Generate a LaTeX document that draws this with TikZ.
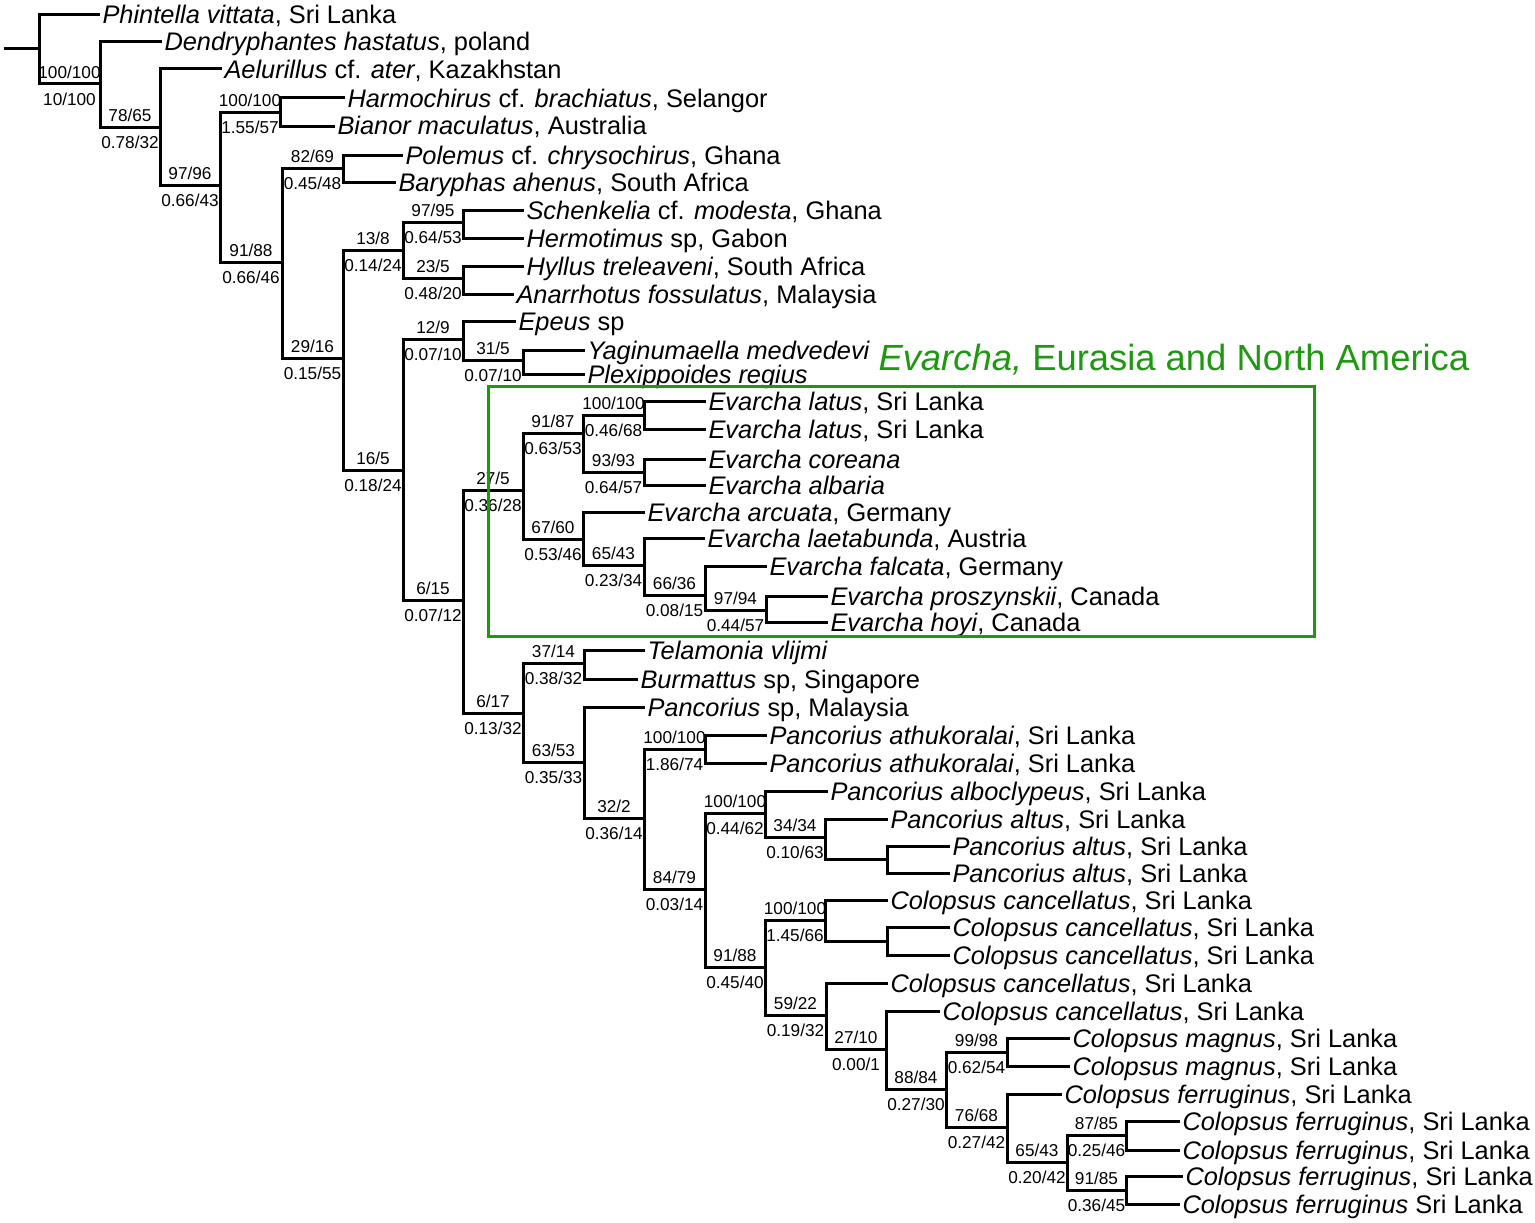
\documentclass[tikz,border=0pt]{standalone}
\usepackage{fontspec}
\setmainfont{Liberation Sans}
\definecolor{cladegreen}{RGB}{30,152,16}
\begin{document}
\begin{tikzpicture}[
x=1pt, y=-1pt,
line width=3pt,
taxon/.style={
anchor=west,
inner sep=1pt,
text height=18pt,
text depth=0pt,
font=\fontsize{25.4}{28}\selectfont
},
topval/.style={above=4pt, inner sep=0pt, font=\fontsize{17.2}{19}\selectfont},
botval/.style={below=8pt, inner sep=0pt, font=\fontsize{17.2}{19}\selectfont}
]
\useasboundingbox (0,0) rectangle (1535,1223);

\coordinate (n0) at (4,49);
\coordinate (n1) at (39,49);
\coordinate (n2) at (100,84);
\coordinate (n3) at (160,127);
\coordinate (n4) at (220,185);
\coordinate (n5) at (280,112);
\coordinate (n6) at (282,262);
\coordinate (n7) at (343,168);
\coordinate (n8) at (343,358);
\coordinate (n9) at (403,250);
\coordinate (n10) at (403,470);
\coordinate (n11) at (463,222);
\coordinate (n12) at (463,278);
\coordinate (n13) at (463,600);
\coordinate (n14) at (463,339);
\coordinate (n15) at (523,360);
\coordinate (n16) at (523,490);
\coordinate (n17) at (523,713);
\coordinate (n18) at (583,433);
\coordinate (n19) at (583,539);
\coordinate (n20) at (644,415);
\coordinate (n21) at (644,472);
\coordinate (n22) at (644,565);
\coordinate (n23) at (705,595);
\coordinate (n24) at (766,610);
\coordinate (n25) at (584,663);
\coordinate (n26) at (584,762);
\coordinate (n27) at (644,818);
\coordinate (n43) at (705,749);
\coordinate (n28) at (705,889);
\coordinate (n29) at (765,813);
\coordinate (n30) at (825,837);
\coordinate (n31) at (887,859);
\coordinate (n32) at (765,967);
\coordinate (n33) at (825,920);
\coordinate (n34) at (887,941);
\coordinate (n35) at (826,1015);
\coordinate (n36) at (886,1049);
\coordinate (n37) at (946,1089);
\coordinate (n38) at (1007,1052);
\coordinate (n39) at (1007,1127);
\coordinate (n40) at (1067,1162);
\coordinate (n41) at (1126,1135);
\coordinate (n42) at (1126,1190);

\node[taxon] (t1) at (100,15) {\textit{Phintella vittata}, Sri Lanka};
\node[taxon] (t2) at (162,42) {\textit{Dendryphantes hastatus}, poland};
\node[taxon] (t3) at (222,69) {\textit{Aelurillus} cf. \textit{ater}, Kazakhstan};
\node[taxon] (t4) at (345,98) {\textit{Harmochirus} cf. \textit{brachiatus}, Selangor};
\node[taxon] (t5) at (335,126) {\textit{Bianor maculatus}, Australia};
\node[taxon] (t6) at (403,155) {\textit{Polemus} cf. \textit{chrysochirus}, Ghana};
\node[taxon] (t7) at (396,182) {\textit{Baryphas ahenus}, South Africa};
\node[taxon] (t8) at (524,210) {\textit{Schenkelia} cf. \textit{modesta}, Ghana};
\node[taxon] (t9) at (524,238) {\textit{Hermotimus} sp, Gabon};
\node[taxon] (t10) at (524,266) {\textit{Hyllus treleaveni}, South Africa};
\node[taxon] (t11) at (514,294) {\textit{Anarrhotus fossulatus}, Malaysia};
\node[taxon] (t12) at (516,321) {\textit{Epeus} sp};
\node[taxon] (t13) at (585,350) {\textit{Yaginumaella medvedevi}};
\node[taxon] (t14) at (585,374) {\textit{Plexippoides regius}};
\node[taxon] (t15) at (706,401) {\textit{Evarcha latus}, Sri Lanka};
\node[taxon] (t16) at (706,429) {\textit{Evarcha latus}, Sri Lanka};
\node[taxon] (t17) at (706,459) {\textit{Evarcha coreana}};
\node[taxon] (t18) at (706,485) {\textit{Evarcha albaria}};
\node[taxon] (t19) at (645,512) {\textit{Evarcha arcuata}, Germany};
\node[taxon] (t20) at (705,538) {\textit{Evarcha laetabunda}, Austria};
\node[taxon] (t21) at (767,566) {\textit{Evarcha falcata}, Germany};
\node[taxon] (t22) at (828,596) {\textit{Evarcha proszynskii}, Canada};
\node[taxon] (t23) at (828,622) {\textit{Evarcha hoyi}, Canada};
\node[taxon] (t24) at (645,650) {\textit{Telamonia vlijmi}};
\node[taxon] (t25) at (638,679) {\textit{Burmattus} sp, Singapore};
\node[taxon] (t26) at (645,707) {\textit{Pancorius} sp, Malaysia};
\node[taxon] (t27) at (767,735) {\textit{Pancorius athukoralai}, Sri Lanka};
\node[taxon] (t28) at (767,763) {\textit{Pancorius athukoralai}, Sri Lanka};
\node[taxon] (t29) at (828,791) {\textit{Pancorius alboclypeus}, Sri Lanka};
\node[taxon] (t30) at (888,819) {\textit{Pancorius altus}, Sri Lanka};
\node[taxon] (t31) at (950,846) {\textit{Pancorius altus}, Sri Lanka};
\node[taxon] (t32) at (950,873) {\textit{Pancorius altus}, Sri Lanka};
\node[taxon] (t33) at (888,900) {\textit{Colopsus cancellatus}, Sri Lanka};
\node[taxon] (t34) at (950,927) {\textit{Colopsus cancellatus}, Sri Lanka};
\node[taxon] (t35) at (950,955) {\textit{Colopsus cancellatus}, Sri Lanka};
\node[taxon] (t36) at (888,983) {\textit{Colopsus cancellatus}, Sri Lanka};
\node[taxon] (t37) at (940,1011) {\textit{Colopsus cancellatus}, Sri Lanka};
\node[taxon] (t38) at (1070,1038) {\textit{Colopsus magnus}, Sri Lanka};
\node[taxon] (t39) at (1070,1066) {\textit{Colopsus magnus}, Sri Lanka};
\node[taxon] (t40) at (1062,1094) {\textit{Colopsus ferruginus}, Sri Lanka};
\node[taxon] (t41) at (1180,1121) {\textit{Colopsus ferruginus}, Sri Lanka};
\node[taxon] (t42) at (1180,1150) {\textit{Colopsus ferruginus}, Sri Lanka};
\node[taxon] (t43) at (1183,1176) {\textit{Colopsus ferruginus}, Sri Lanka};
\node[taxon] (t44) at (1180,1204) {\textit{Colopsus ferruginus} Sri Lanka};

\draw (n0) -- (n1);
\draw (n1) |- (t1);
\draw (n1) |- (n2) node[pos=.75,topval] {100/100} node[pos=.75,botval] {10/100};
\draw (n2) |- (t2);
\draw (n2) |- (n3) node[pos=.75,topval] {78/65} node[pos=.75,botval] {0.78/32};
\draw (n3) |- (t3);
\draw (n3) |- (n4) node[pos=.75,topval] {97/96} node[pos=.75,botval] {0.66/43};
\draw (n4) |- (n5) node[pos=.75,topval] {100/100} node[pos=.75,botval] {1.55/57};
\draw (n5) |- (t4);
\draw (n5) |- (t5);
\draw (n4) |- (n6) node[pos=.75,topval] {91/88} node[pos=.75,botval] {0.66/46};
\draw (n6) |- (n7) node[pos=.75,topval] {82/69} node[pos=.75,botval] {0.45/48};
\draw (n7) |- (t6);
\draw (n7) |- (t7);
\draw (n6) |- (n8) node[pos=.75,topval] {29/16} node[pos=.75,botval] {0.15/55};
\draw (n8) |- (n9) node[pos=.75,topval] {13/8} node[pos=.75,botval] {0.14/24};
\draw (n9) |- (n11) node[pos=.75,topval] {97/95} node[pos=.75,botval] {0.64/53};
\draw (n11) |- (t8);
\draw (n11) |- (t9);
\draw (n9) |- (n12) node[pos=.75,topval] {23/5} node[pos=.75,botval] {0.48/20};
\draw (n12) |- (t10);
\draw (n12) |- (t11);
\draw (n8) |- (n10) node[pos=.75,topval] {16/5} node[pos=.75,botval] {0.18/24};
\draw (n10) |- (n14) node[pos=.75,topval] {12/9} node[pos=.75,botval] {0.07/10};
\draw (n14) |- (t12);
\draw (n14) |- (n15) node[pos=.75,topval] {31/5} node[pos=.75,botval] {0.07/10};
\draw (n15) |- (t13);
\draw (n15) |- (t14);
\draw (n10) |- (n13) node[pos=.75,topval] {6/15} node[pos=.75,botval] {0.07/12};
\draw (n13) |- (n16) node[pos=.75,topval] {27/5} node[pos=.75,botval] {0.36/28};
\draw (n16) |- (n18) node[pos=.75,topval] {91/87} node[pos=.75,botval] {0.63/53};
\draw (n18) |- (n20) node[pos=.75,topval] {100/100} node[pos=.75,botval] {0.46/68};
\draw (n20) |- (t15);
\draw (n20) |- (t16);
\draw (n18) |- (n21) node[pos=.75,topval] {93/93} node[pos=.75,botval] {0.64/57};
\draw (n21) |- (t17);
\draw (n21) |- (t18);
\draw (n16) |- (n19) node[pos=.75,topval] {67/60} node[pos=.75,botval] {0.53/46};
\draw (n19) |- (t19);
\draw (n19) |- (n22) node[pos=.75,topval] {65/43} node[pos=.75,botval] {0.23/34};
\draw (n22) |- (t20);
\draw (n22) |- (n23) node[pos=.75,topval] {66/36} node[pos=.75,botval] {0.08/15};
\draw (n23) |- (t21);
\draw (n23) |- (n24) node[pos=.75,topval] {97/94} node[pos=.75,botval] {0.44/57};
\draw (n24) |- (t22);
\draw (n24) |- (t23);
\draw (n13) |- (n17) node[pos=.75,topval] {6/17} node[pos=.75,botval] {0.13/32};
\draw (n17) |- (n25) node[pos=.75,topval] {37/14} node[pos=.75,botval] {0.38/32};
\draw (n25) |- (t24);
\draw (n25) |- (t25);
\draw (n17) |- (n26) node[pos=.75,topval] {63/53} node[pos=.75,botval] {0.35/33};
\draw (n26) |- (t26);
\draw (n26) |- (n27) node[pos=.75,topval] {32/2} node[pos=.75,botval] {0.36/14};
\draw (n27) |- (n43) node[pos=.75,topval] {100/100} node[pos=.75,botval] {1.86/74};
\draw (n43) |- (t27);
\draw (n43) |- (t28);
\draw (n27) |- (n28) node[pos=.75,topval] {84/79} node[pos=.75,botval] {0.03/14};
\draw (n28) |- (n29) node[pos=.75,topval] {100/100} node[pos=.75,botval] {0.44/62};
\draw (n29) |- (t29);
\draw (n29) |- (n30) node[pos=.75,topval] {34/34} node[pos=.75,botval] {0.10/63};
\draw (n30) |- (t30);
\draw (n30) |- (n31);
\draw (n31) |- (t31);
\draw (n31) |- (t32);
\draw (n28) |- (n32) node[pos=.75,topval] {91/88} node[pos=.75,botval] {0.45/40};
\draw (n32) |- (n33) node[pos=.75,topval] {100/100} node[pos=.75,botval] {1.45/66};
\draw (n33) |- (t33);
\draw (n33) |- (n34);
\draw (n34) |- (t34);
\draw (n34) |- (t35);
\draw (n32) |- (n35) node[pos=.75,topval] {59/22} node[pos=.75,botval] {0.19/32};
\draw (n35) |- (t36);
\draw (n35) |- (n36) node[pos=.75,topval] {27/10} node[pos=.75,botval] {0.00/1};
\draw (n36) |- (t37);
\draw (n36) |- (n37) node[pos=.75,topval] {88/84} node[pos=.75,botval] {0.27/30};
\draw (n37) |- (n38) node[pos=.75,topval] {99/98} node[pos=.75,botval] {0.62/54};
\draw (n38) |- (t38);
\draw (n38) |- (t39);
\draw (n37) |- (n39) node[pos=.75,topval] {76/68} node[pos=.75,botval] {0.27/42};
\draw (n39) |- (t40);
\draw (n39) |- (n40) node[pos=.75,topval] {65/43} node[pos=.75,botval] {0.20/42};
\draw (n40) |- (n41) node[pos=.75,topval] {87/85} node[pos=.75,botval] {0.25/46};
\draw (n41) |- (t41);
\draw (n41) |- (t42);
\draw (n40) |- (n42) node[pos=.75,topval] {91/85} node[pos=.75,botval] {0.36/45};
\draw (n42) |- (t43);
\draw (n42) |- (t44);

\node[anchor=base west, inner sep=0pt, text=cladegreen, font=\fontsize{36.4}{40}\selectfont] (title) at (877,370) {\textit{Evarcha,} Eurasia and North America};
\draw[cladegreen, line width=3pt] (488,386) rectangle (1314,636);

\end{tikzpicture}
\end{document}
